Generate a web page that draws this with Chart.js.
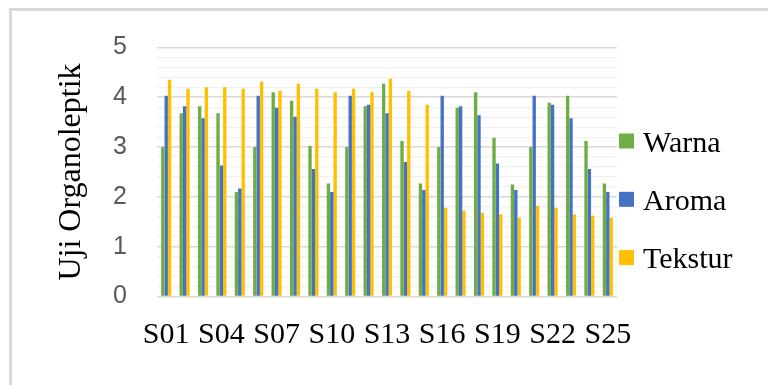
<!DOCTYPE html>
<html>
<head>
<meta charset="utf-8">
<script src="https://cdn.jsdelivr.net/npm/chart.js@4"></script>
<style>
  html, body { margin: 0; padding: 0; background: #ffffff; }
  #wrap { position: relative; width: 768px; height: 385px; overflow: hidden; }
  #frame { position: absolute; left: 9px; top: 8px; right: -10px; bottom: -10px;
           border-left: 3px solid #d9d9d9; border-top: 3px solid #d9d9d9; }
  canvas { position: absolute; left: 0; top: 0; }
</style>
</head>
<body>
<div id="wrap">
  <div id="frame"></div>
  <canvas id="chart" width="768" height="385"></canvas>
</div>
<script>
// Samples S01..S25
const categories = [
  'S01','S02','S03','S04','S05','S06','S07','S08','S09','S10',
  'S11','S12','S13','S14','S15','S16','S17','S18','S19','S20',
  'S21','S22','S23','S24','S25'
];

// Organoleptic scores per attribute
const warna = [3.00, 3.68, 3.82, 3.68, 2.10, 3.00, 4.10, 3.93, 3.02, 2.27,
               3.00, 3.82, 4.27, 3.12, 2.27, 3.00, 3.79, 4.10, 3.19, 2.25,
               3.00, 3.89, 4.03, 3.12, 2.27];
const aroma = [4.03, 3.82, 3.58, 2.63, 2.17, 4.03, 3.79, 3.61, 2.56, 2.10,
               4.03, 3.85, 3.68, 2.70, 2.14, 4.03, 3.82, 3.64, 2.67, 2.14,
               4.03, 3.85, 3.58, 2.56, 2.10];
const tekstur = [4.35, 4.17, 4.20, 4.20, 4.17, 4.31, 4.13, 4.27, 4.17, 4.10,
                 4.17, 4.10, 4.37, 4.13, 3.85, 1.78, 1.72, 1.68, 1.65, 1.58,
                 1.82, 1.78, 1.65, 1.62, 1.58];

const seriesNames = ['Warna', 'Aroma', 'Tekstur'];
const seriesColors = ['#70AD47', '#4472C4', '#FFC000'];

const yTitle = 'Uji Organoleptik';
const yMin = 0, yMax = 5;

const isWhole = v => Math.abs(v - Math.round(v)) < 1e-6;

// Legend drawn to the right of the plot, one entry per dataset
const sideLegend = {
  id: 'sideLegend',
  afterDraw(chart) {
    const { ctx, chartArea } = chart;
    ctx.save();
    ctx.font = '30px "Liberation Serif", "Times New Roman", serif';
    ctx.textBaseline = 'alphabetic';
    ctx.textAlign = 'left';
    chart.data.datasets.forEach((ds, i) => {
      const cy = 141 + i * 58.3;
      const bx = chartArea.right + 2;
      ctx.fillStyle = ds.backgroundColor;
      ctx.fillRect(bx, cy - 7.5, 15, 15);
      ctx.fillStyle = '#000000';
      ctx.fillText(ds.label, bx + 24, cy + 10.5);
    });
    ctx.restore();
  }
};

new Chart(document.getElementById('chart'), {
  type: 'bar',
  data: {
    labels: categories,
    datasets: [
      { label: seriesNames[0], data: warna,   backgroundColor: seriesColors[0] },
      { label: seriesNames[1], data: aroma,   backgroundColor: seriesColors[1] },
      { label: seriesNames[2], data: tekstur, backgroundColor: seriesColors[2] }
    ]
  },
  options: {
    responsive: false,
    animation: false,
    devicePixelRatio: 1,
    layout: { padding: { top: 47.5, right: 151, bottom: 0, left: 0 } },
    datasets: { bar: { categoryPercentage: 0.55, barPercentage: 1.0, borderWidth: 0 } },
    plugins: {
      legend: { display: false },
      tooltip: { enabled: false }
    },
    scales: {
      x: {
        grid: { display: false, drawTicks: false },
        border: { display: false },
        afterFit: s => { s.height = 88.5; },
        ticks: {
          autoSkip: false,
          maxRotation: 0,
          minRotation: 0,
          padding: 21,
          color: '#000000',
          font: { family: '"Liberation Serif", "Times New Roman", serif', size: 30 },
          callback: (v, i) => (i % 3 === 0 ? categories[i] : '')
        }
      },
      y: {
        min: yMin,
        max: yMax,
        afterFit: s => { s.width = 157; },
        border: { display: false },
        grid: {
          drawTicks: false,
          color: c => (isWhole(c.tick.value) ? '#d9d9d9' : '#f0f0f0'),
          lineWidth: c => (isWhole(c.tick.value) ? 1.6 : 1.2)
        },
        ticks: {
          stepSize: 0.2,
          autoSkip: false,
          padding: 30,
          color: '#595959',
          font: { family: '"Liberation Sans", Arial, sans-serif', size: 25 },
          callback: v => (isWhole(v) ? String(Math.round(v)) : '')
        },
        title: {
          display: true,
          text: yTitle,
          color: '#000000',
          font: { family: '"Liberation Serif", "Times New Roman", serif', size: 32 },
          padding: { top: 52, bottom: 0 }
        }
      }
    }
  },
  plugins: [sideLegend]
});
</script>
</body>
</html>
